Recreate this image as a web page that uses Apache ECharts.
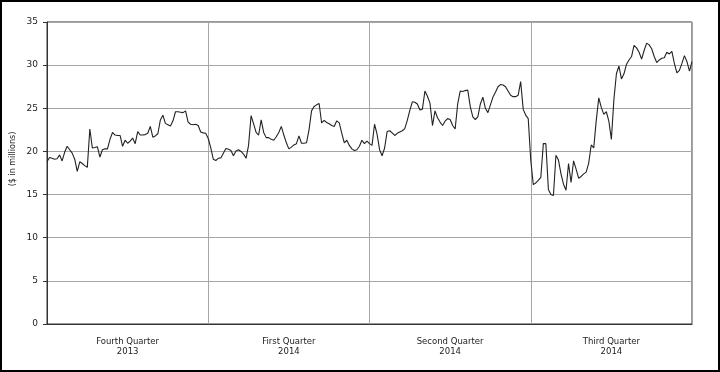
<!DOCTYPE html>
<html>
<head>
<meta charset="utf-8">
<script src="https://cdn.jsdelivr.net/npm/echarts@6/dist/echarts.min.js"></script>
<style>
html,body{margin:0;padding:0;background:#fff;}
#main{width:720px;height:372px;}
</style>
</head>
<body>
<div id="main"></div>
<script>
// Daily values ($ in millions), one array per quarter
const q4_2013 = [18.8,19.3,19.2,19.1,19.15,19.6,18.9,19.9,20.6,20.2,19.8,19.1,17.7,18.8,18.6,18.35,18.15,22.6,20.4,20.45,20.55,19.35,20.2,20.3,20.3,21.4,22.2,21.9,21.85,21.85,20.6,21.3,20.95,21.2,21.55,20.9,22.3,21.9,21.9,21.95,22.1,22.9,21.65,21.8,22.05,23.65,24.2,23.25,23.1,22.95,23.55,24.6,24.6,24.55,24.5,24.7,23.4,23.15,23.1,23.15,23.0,22.25,22.15,22.1];
const q1_2014 = [21.5,20.4,19.1,18.95,19.2,19.25,19.8,20.35,20.25,20.1,19.5,20.05,20.2,20.0,19.7,19.2,20.7,24.15,23.2,22.2,21.9,23.65,22.2,21.6,21.6,21.4,21.3,21.7,22.2,22.9,21.9,21.0,20.3,20.5,20.75,20.9,21.8,20.95,20.95,21.0,22.5,24.7,25.2,25.4,25.55,23.3,23.6,23.35,23.2,23.0,22.9,23.55,23.3,22.1,21.0,21.3,20.7,20.3,20.1,20.2,20.6,21.3,20.9,21.2];
const q2_2014 = [20.9,20.7,23.15,22.0,20.2,19.5,20.4,22.3,22.4,22.15,21.85,22.1,22.25,22.4,22.65,23.6,24.75,25.75,25.7,25.5,24.8,24.9,27.0,26.4,25.6,23.0,24.7,23.9,23.4,23.0,23.5,23.8,23.7,23.0,22.6,25.5,27.0,26.95,27.05,27.1,25.2,24.0,23.7,24.0,25.5,26.3,25.0,24.5,25.4,26.3,26.85,27.5,27.75,27.7,27.5,27.0,26.5,26.35,26.35,26.5,28.1,24.9,24.2,23.8];
const q3_2014 = [19.0,16.15,16.35,16.65,17.0,20.9,20.9,15.6,15.0,14.9,19.55,19.0,17.4,16.2,15.5,18.6,16.4,18.9,17.95,16.9,17.1,17.4,17.6,18.65,20.75,20.4,23.6,26.2,25.1,24.3,24.6,23.5,21.4,26.0,29.0,29.9,28.4,29.0,30.1,30.6,31.0,32.3,32.0,31.5,30.7,31.7,32.55,32.35,31.9,31.0,30.3,30.6,30.8,30.85,31.5,31.3,31.6,30.2,29.1,29.4,30.2,31.1,30.4,29.3,30.4];
const quarterLabels = ['Fourth Quarter\n2013','First Quarter\n2014','Second Quarter\n2014','Third Quarter\n2014'];
const daysPerQuarter = 64;
const yMin = 0, yMax = 35, yStep = 5;
const yName = '($ in millions)';

const allValues = q4_2013.concat(q1_2014, q2_2014, q3_2014);
const lineData = allValues.map((v, i) => [i, v]);

const FONT = '"DejaVu Sans", Verdana, sans-serif';
const chart = echarts.init(document.getElementById('main'), null, {renderer: 'canvas'});
chart.setOption({
  animation: false,
  backgroundColor: '#fff',
  grid: {left: 47, right: 28, top: 22, bottom: 48, show: true, borderColor: '#333', borderWidth: 1, backgroundColor: 'transparent'},
  xAxis: [
    {
      type: 'value', min: 0, max: daysPerQuarter * 4, interval: daysPerQuarter,
      axisLine: {show: true, lineStyle: {color: '#333', width: 1}},
      axisTick: {show: false},
      axisLabel: {show: false},
      splitLine: {show: true, lineStyle: {color: '#a6a6a6', width: 1}}
    },
    {
      type: 'category', data: quarterLabels, position: 'bottom', boundaryGap: true,
      axisLine: {show: false}, axisTick: {show: false}, splitLine: {show: false},
      axisLabel: {margin: 13, fontSize: 8.5, lineHeight: 10, color: '#222', fontFamily: FONT}
    }
  ],
  yAxis: {
    type: 'value', min: yMin, max: yMax, interval: yStep,
    axisLine: {show: true, lineStyle: {color: '#333', width: 1}},
    axisTick: {show: true, length: 4, lineStyle: {color: '#333'}},
    axisLabel: {margin: 9, fontSize: 9, color: '#222', fontFamily: FONT},
    splitLine: {show: true, lineStyle: {color: '#a6a6a6', width: 1}}
  },
  series: [{
    type: 'line', xAxisIndex: 0, data: lineData, symbol: 'none',
    lineStyle: {color: '#222', width: 1.1}
  }],
  graphic: [
    {type: 'rect', silent: true, shape: {x: 1, y: 1, width: 718, height: 370}, style: {fill: 'none', stroke: '#000', lineWidth: 2}},
    {type: 'text', x: 13, y: 159, rotation: Math.PI / 2, silent: true,
     style: {text: yName, font: '8px ' + FONT, fill: '#222', align: 'center', verticalAlign: 'middle', textAlign: 'center', textVerticalAlign: 'middle'}}
  ]
});
</script>
</body>
</html>
